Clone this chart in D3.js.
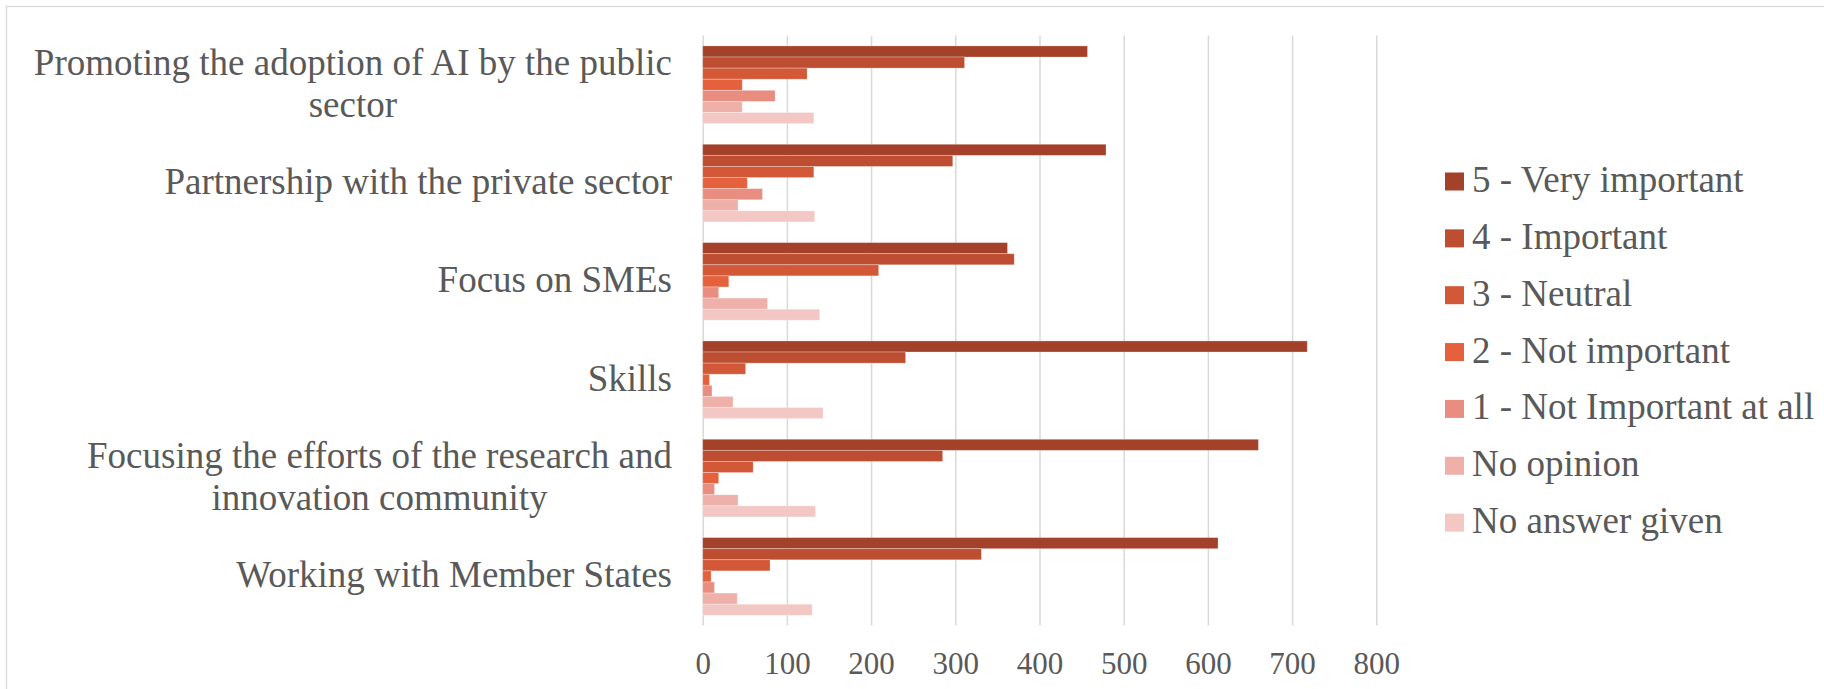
<!DOCTYPE html>
<html><head><meta charset="utf-8">
<script src="https://cdn.jsdelivr.net/npm/d3@7"></script>
<style>
html,body{margin:0;padding:0;background:#fff;}
svg{display:block;}
svg text{font-family:'Liberation Serif','Times New Roman',Times,'DejaVu Serif',serif !important;fill:#595959;}
</style></head><body>
<svg id="chart" width="1824" height="689" font-family="Liberation Serif, Times New Roman, serif"></svg>
<script>
const categories = [
  "Promoting the adoption of AI by the public sector",
  "Partnership with the private sector",
  "Focus on SMEs",
  "Skills",
  "Focusing the efforts of the research and innovation community",
  "Working with Member States"
];
const seriesNames = ["5 - Very important","4 - Important","3 - Neutral","2 - Not important","1 - Not Important at all","No opinion","No answer given"];
const seriesColors = ["#A4412A","#BE4E32","#D35837","#E5613D","#E98D80","#EEB0A8","#F3C8C4"];
const veryImportant = [457, 479, 362, 718, 660, 612];
const important     = [311, 297, 370, 241, 285, 331];
const neutral       = [124, 132, 209, 51, 60, 80];
const notImportant  = [47, 53, 31, 8, 19, 10];
const notAtAll      = [86, 71, 19, 11, 14, 14];
const noOpinion     = [47, 42, 77, 36, 42, 41];
const noAnswer      = [132, 133, 139, 143, 134, 130];
const tickValues = [0, 100, 200, 300, 400, 500, 600, 700, 800];

const seriesValues = [veryImportant, important, neutral, notImportant, notAtAll, noOpinion, noAnswer];
const FONT = "'Liberation Serif','Times New Roman',Times,serif";

const svg = d3.select("#chart");
const plotTop = 35.6, plotBottom = 625.6;

// chart border
svg.append("rect").attr("x",6.5).attr("y",6.5).attr("width",2000).attr("height",1000)
  .attr("fill","none").attr("stroke","#d9d9d9").attr("stroke-width",1.3);

const x = d3.scaleLinear().domain([0, 800]).range([702.7, 1376.3]);
const y = d3.scaleBand().domain(categories).range([plotTop, plotBottom]).paddingInner(0.21).paddingOuter(0.105);
const ys = d3.scaleBand().domain(seriesNames).range([0, y.bandwidth()]);

// gridlines + tick labels
const axis = d3.axisBottom(x).tickValues(tickValues).tickSize(-(plotBottom - plotTop)).tickFormat(d3.format("d"));
const gAxis = svg.append("g").attr("transform", `translate(0,${plotBottom})`).call(axis)
  .attr("font-family", FONT).attr("font-size", 31);
gAxis.select(".domain").remove();
gAxis.selectAll(".tick line").attr("stroke","#d9d9d9").attr("stroke-width",1.5);
gAxis.selectAll(".tick text").attr("y",48).attr("dy",0)
  .style("font-family",FONT).style("font-size","31px").attr("fill","#595959");

// bars
const gBars = svg.append("g");
seriesNames.forEach((s, si) => {
  gBars.selectAll(null).data(categories.map((c, ci) => ({c, v: seriesValues[si][ci]})))
    .join("rect")
    .attr("x", x(0))
    .attr("y", d => y(d.c) + ys(s))
    .attr("width", d => x(d.v) - x(0))
    .attr("height", ys.bandwidth())
    .attr("fill", seriesColors[si])
    .attr("stroke", "rgba(255,255,255,0.35)")
    .attr("stroke-width", 0.8);
});

// category labels (wrapped, block right-aligned, lines centered)
const labelRight = 672, maxW = 660, lineH = 42.3, fs = 37;
const gLab = svg.append("g").style("font-size", fs + "px").style("font-family", FONT);
categories.forEach(c => {
  const words = c.split(" ");
  const tmp = gLab.append("text").style("font-family", FONT);
  const lines = [];
  let cur = [];
  words.forEach(w => {
    const trial = cur.concat([w]).join(" ");
    tmp.text(trial);
    if (tmp.node().getComputedTextLength() > maxW && cur.length) {
      lines.push(cur.join(" "));
      cur = [w];
    } else cur.push(w);
  });
  lines.push(cur.join(" "));
  const widths = lines.map(l => { tmp.text(l); return tmp.node().getComputedTextLength(); });
  tmp.remove();
  const W = d3.max(widths);
  const cx = labelRight - W / 2;
  const cy = y(c) + y.bandwidth() / 2;
  lines.forEach((l, i) => {
    gLab.append("text")
      .attr("x", cx)
      .attr("y", cy + (i - (lines.length - 1) / 2) * lineH + 11)
      .attr("text-anchor", "middle")
      .style("font-family", FONT)
      .text(l);
  });
});

// legend
const gLeg = svg.append("g").style("font-size", "37px").style("font-family", FONT);
seriesNames.forEach((s, i) => {
  const cy = 181.5 + i * 56.85;
  gLeg.append("rect").attr("x",1445).attr("y",cy - 9).attr("width",19).attr("height",18).attr("fill",seriesColors[i]);
  gLeg.append("text").attr("x",1472).attr("y",cy + 10.5).style("font-family", FONT).text(s);
});
</script>
</body></html>
